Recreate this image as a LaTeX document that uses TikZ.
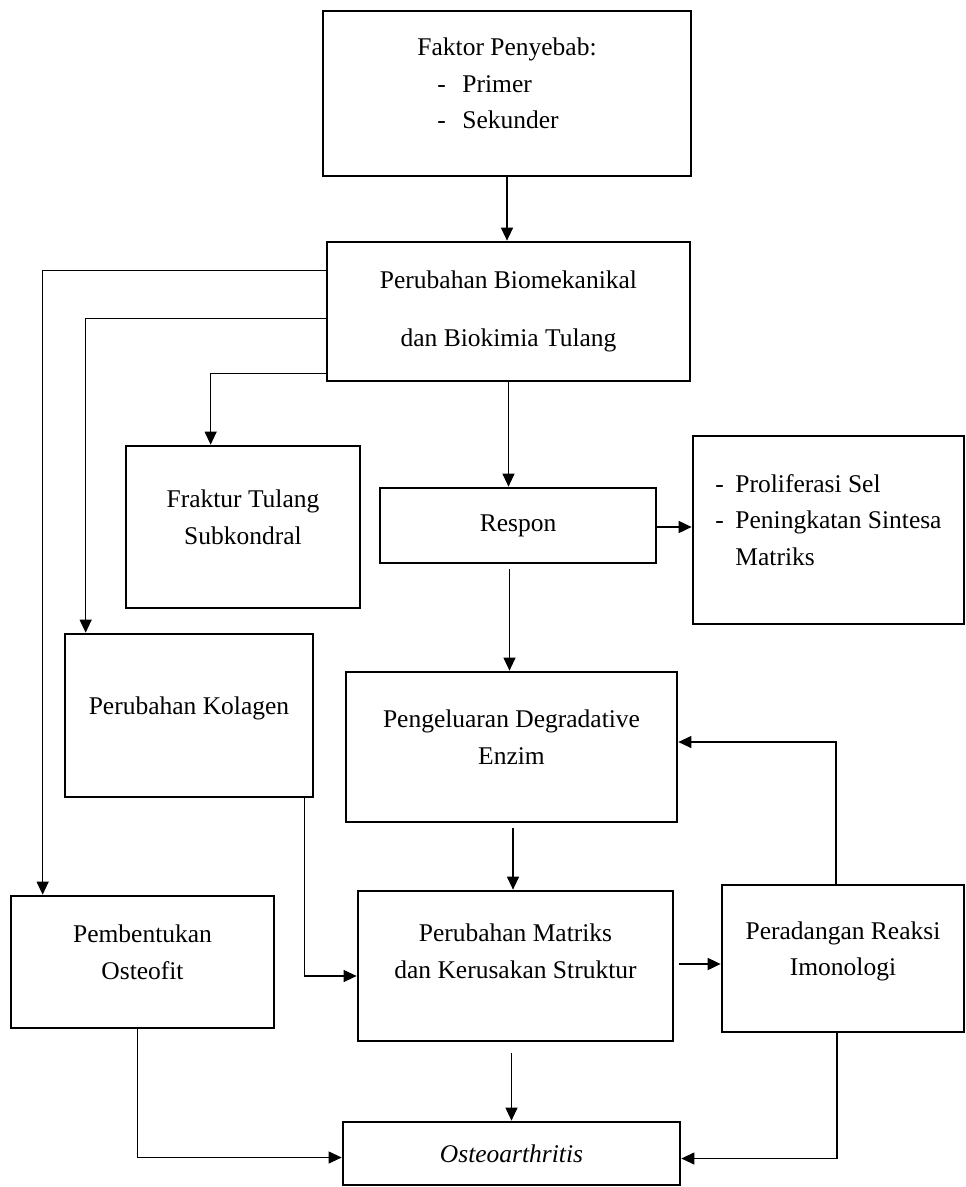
\documentclass[tikz,border=0pt]{standalone}
\usepackage{fontspec}
\setmainfont{Liberation Serif}
\usetikzlibrary{arrows.meta}
\begin{document}
\begin{tikzpicture}[x=1pt,y=-1pt]
    \tikzset{box/.style = {shape = rectangle,draw=black,line width=2.7pt,inner sep = 0pt,align=center,font=\fontsize{25.5}{36.5}\selectfont}, boxup/.style = {box,text depth=20pt}, edge/.style = {line width=1.1pt,-{Triangle[length=13pt,width=12pt]}}, bold edge/.style = {edge,line width=1.8pt}}
    \useasboundingbox (0,0) rectangle (966,1187);
    % boxes
    \node[boxup,align=left,minimum width=368pt,minimum height=165pt] (faktor) at (507,93.5) {Faktor Penyebab:\\\hspace*{20pt}\makebox[25pt][l]{-}Primer\\\hspace*{20pt}\makebox[25pt][l]{-}Sekunder};
    \node[box,minimum width=363pt,minimum height=139pt] (biomek) at (508.5,311.5) {Perubahan Biomekanikal\\[22pt]dan Biokimia Tulang};
    \node[boxup,minimum width=234pt,minimum height=162pt] (fraktur) at (243,527) {Fraktur Tulang\\Subkondral};
    \node[box,minimum width=276pt,minimum height=75pt] (respon) at (518,525.5) {Respon};
    \node[boxup,align=left,minimum width=271pt,minimum height=188pt] (prolif) at (828.5,530) {\makebox[20pt][l]{-}Proliferasi Sel\\\makebox[20pt][l]{-}Peningkatan Sintesa\\\hspace*{20pt}Matriks};
    \node[boxup,minimum width=248pt,minimum height=163pt] (kolagen) at (189,715.5) {Perubahan Kolagen};
    \node[boxup,minimum width=331pt,minimum height=150pt] (enzim) at (511.5,747) {Pengeluaran Degradative\\Enzim};
    \node[boxup,minimum width=263pt,minimum height=132pt] (osteofit) at (142.5,962) {Pembentukan\\Osteofit};
    \node[boxup,text depth=30pt,minimum width=315pt,minimum height=150pt] (matriks) at (515.5,966) {Perubahan Matriks\\dan Kerusakan Struktur};
    \node[boxup,minimum width=242pt,minimum height=147pt] (radang) at (843,958.5) {Peradangan Reaksi\\Imonologi};
    \node[box,minimum width=337pt,minimum height=63pt] (oa) at (511.5,1153.5) {\itshape Osteoarthritis};
    % connectors
    \draw[edge] (faktor.south) -- (faktor.south |- biomek.north);
    \draw[edge] ([yshift=-30pt]biomek.north west) -| ([xshift=33pt]osteofit.north west);
    \draw[edge] ([yshift=-78pt]biomek.north west) -| ([xshift=22pt]kolagen.north west);
    \draw[edge] ([yshift=9pt]biomek.south west) -| ([xshift=86pt]fraktur.north west);
    \draw[edge] (biomek.south) -- (biomek.south |- respon.north);
    \draw[bold edge] ([yshift=-1.5pt]respon.east) -- ([yshift=-1.5pt]respon.east -| prolif.west);
    \draw[edge] ([xshift=-2pt,yshift=-5pt]enzim.north |- respon.south) -- ([xshift=-2pt]enzim.north);
    \draw[edge] ([yshift=-5pt,xshift=1.5pt]enzim.south) -- ([xshift=1.5pt]enzim.south |- matriks.north);
    \draw[edge] ([xshift=-10pt]kolagen.south east) |- ([yshift=-10pt]matriks.west);
    \draw[bold edge] ([xshift=5pt,yshift=2pt]matriks.east) -- ([yshift=2pt]matriks.east -| radang.west);
    \draw[edge] ([xshift=-7pt]radang.north) |- ([yshift=5pt]enzim.east);
    \draw[edge] ([yshift=-11pt]oa.north |- matriks.south) -- (oa.north);
    \draw[edge] ([xshift=-5pt]osteofit.south) |- ([yshift=-4pt]oa.west);
    \draw[edge] ([xshift=-6pt]radang.south) |- ([yshift=-5pt]oa.east);
\end{tikzpicture}
\end{document}
